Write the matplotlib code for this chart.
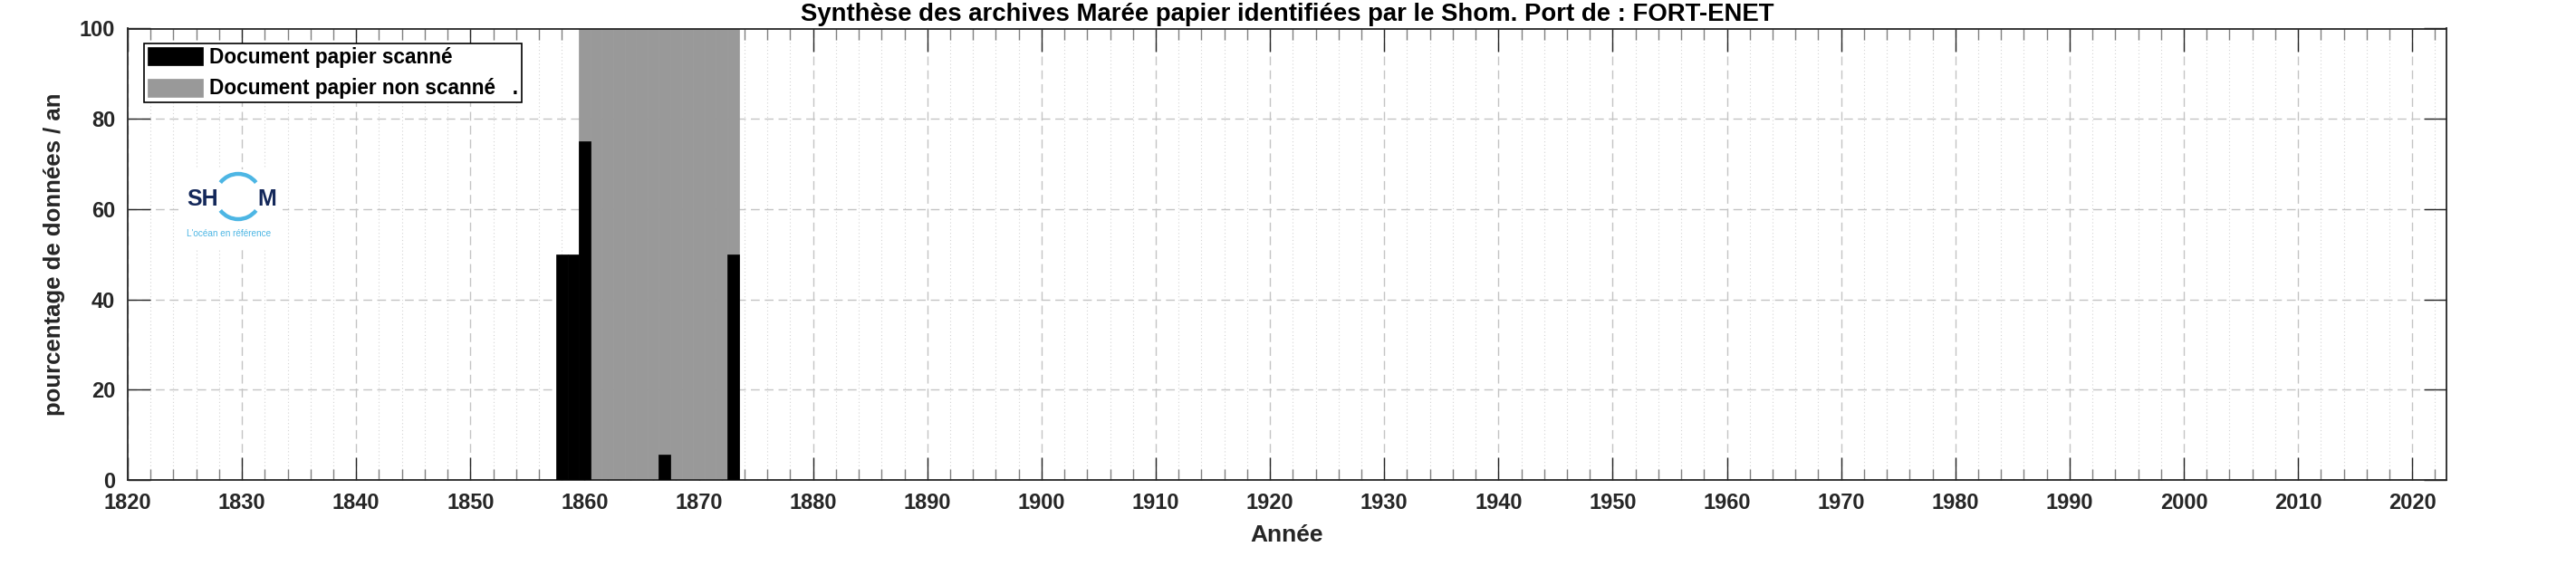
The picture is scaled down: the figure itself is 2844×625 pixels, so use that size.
import numpy as np
import matplotlib
matplotlib.use("Agg")
import matplotlib.pyplot as plt
from matplotlib.patches import Arc
from matplotlib.ticker import MultipleLocator

plt.rcParams["font.family"] = ["Liberation Sans", "DejaVu Sans"]

# Données (pourcentage par an)
years_scan = [1858, 1859, 1860, 1867, 1873]
pct_scan = [50, 50, 75, 5.6, 50]

years_nonscan = [1860, 1861, 1862, 1863, 1864, 1865, 1866,
                 1867, 1868, 1869, 1870, 1871, 1872, 1873]
pct_nonscan = [100, 100, 100, 100, 100, 100, 100,
               100, 100, 100, 100, 100, 100, 100]

labels = ["Document papier scanné", "Document papier non scanné   ."]
title = "Synthèse des archives Marée papier identifiées par le Shom. Port de : FORT-ENET"

W, H = 2844, 625
TXT = "#262626"

fig = plt.figure(figsize=(W / 100, H / 100), dpi=100)

# axes en pixels : gauche 141, droite 2701, haut 31.5, bas 530
ax = fig.add_axes([141 / W, (H - 530) / H, 2560 / W, 498.5 / H])

ax.bar(years_nonscan, pct_nonscan, width=1.0, color="#999999",
       edgecolor="#999999", linewidth=0.5, label=labels[1], zorder=2)
ax.bar(years_scan, pct_scan, width=1.0, color="black",
       edgecolor="black", linewidth=0.5, label=labels[0], zorder=3)

ax.set_xlim(1820, 2023)
ax.set_ylim(0, 100)
ax.xaxis.set_major_locator(MultipleLocator(10))
ax.xaxis.set_minor_locator(MultipleLocator(2))
ax.yaxis.set_major_locator(MultipleLocator(20))

ax.set_axisbelow(True)
ax.grid(which="major", axis="both", color="#c4c4c4",
        linestyle=(0, (7, 4)), linewidth=1.0)
ax.grid(which="minor", axis="x", color="#d4d4d4",
        linestyle=(0, (1, 2.5)), linewidth=0.8)

ax.tick_params(which="both", direction="in", top=True, right=True,
               colors=TXT, labelsize=17)
ax.tick_params(which="major", length=18, width=1.0, pad=10)
ax.tick_params(which="minor", length=8.5, width=1.0, color="#808080")
for lab in ax.get_xticklabels() + ax.get_yticklabels():
    lab.set_fontweight("bold")

for s in ax.spines.values():
    s.set_color(TXT)
    s.set_linewidth(1.3)

ax.set_xlabel("Année", fontsize=19, fontweight="bold", color=TXT, labelpad=9)
ax.set_ylabel("pourcentage de données / an", fontsize=18.5,
              fontweight="bold", color=TXT, labelpad=11)
ax.set_title(title, fontsize=19.8, fontweight="bold", color="black", pad=6)

handles, labs = ax.get_legend_handles_labels()
leg = ax.legend(handles[::-1], labs[::-1], loc="upper left",
                bbox_to_anchor=(18 / 2560, (530 - 48) / 498.5),
                prop={"weight": "bold", "size": 16.3},
                handlelength=2.7, handleheight=1.0, handletextpad=0.28,
                labelspacing=0.5, borderpad=0.18, borderaxespad=0,
                fancybox=False, framealpha=1, edgecolor="black")
leg.get_frame().set_linewidth(1.2)

# logo Shom (fond blanc par-dessus la grille)
lx0, ly0, lw, lh = 200, 187, 112, 88
lax = fig.add_axes([lx0 / W, (H - ly0 - lh) / H, lw / W, lh / H])
lax.set_xlim(0, lw)
lax.set_ylim(lh, 0)
lax.set_facecolor("white")
for s in lax.spines.values():
    s.set_visible(False)
lax.set_xticks([])
lax.set_yticks([])

navy = "#14285a"
sky = "#4db6e4"
cx, cy, r = 63, 30, 25
lax.add_patch(Arc((cx, cy), 2 * r, 2 * r, theta1=218, theta2=322,
                  color=sky, linewidth=3.2))
lax.add_patch(Arc((cx, cy), 2 * r, 2 * r, theta1=38, theta2=142,
                  color=sky, linewidth=3.2))
lax.text(6, 40, "SH", fontsize=18, fontweight="bold", color=navy,
         ha="left", va="baseline")
lax.text(84, 40, "M", fontsize=18, fontweight="bold", color=navy,
         ha="left", va="baseline")
lax.text(6, 74, "L'océan en référence", fontsize=7.2, color=sky,
         ha="left", va="baseline")

fig.savefig("out.png", dpi=100)
